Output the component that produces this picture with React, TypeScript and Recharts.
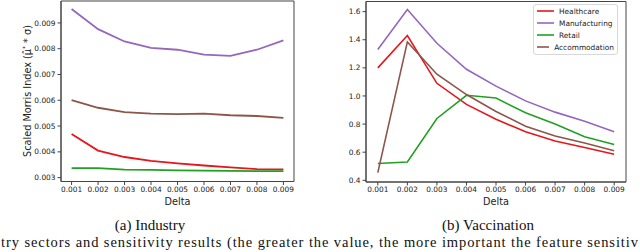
import { LineChart, Line, XAxis, YAxis, ReferenceArea } from 'recharts'

const deltas = [0.001, 0.002, 0.003, 0.004, 0.005, 0.006, 0.007, 0.008, 0.009]
const seriesNames = ['Healthcare', 'Manufacturing', 'Retail', 'Accommodation']
const seriesColors = ['#e8161b', '#9467bd', '#22a022', '#8c564b']

// (a) Industry – scaled Morris index
const industryHealthcare = [0.00469, 0.00405, 0.0038, 0.00365, 0.00355, 0.00347, 0.0034, 0.00333, 0.00332]
const industryManufacturing = [0.00954, 0.00876, 0.00828, 0.00803, 0.00796, 0.00777, 0.00772, 0.00796, 0.00832]
const industryRetail = [0.00337, 0.00337, 0.00331, 0.0033, 0.00328, 0.00327, 0.00326, 0.00325, 0.00325]
const industryAccommodation = [0.00601, 0.00571, 0.00554, 0.00548, 0.00546, 0.00548, 0.00542, 0.00539, 0.00532]

// (b) Vaccination
const vaccHealthcare = [1.2, 1.43, 1.09, 0.94, 0.835, 0.745, 0.68, 0.633, 0.585]
const vaccManufacturing = [1.33, 1.615, 1.375, 1.19, 1.07, 0.965, 0.885, 0.82, 0.745]
const vaccRetail = [0.52, 0.53, 0.84, 1.005, 0.985, 0.88, 0.8, 0.71, 0.655]
const vaccAccommodation = [0.455, 1.385, 1.155, 1.01, 0.89, 0.785, 0.715, 0.665, 0.61]

const industryTicks = [0.003, 0.004, 0.005, 0.006, 0.007, 0.008, 0.009]
const vaccTicks = [0.4, 0.6, 0.8, 1.0, 1.2, 1.4, 1.6]

const caption =
  'try sectors and sensitivity results (the greater the value, the more important the feature sensitiv'

function build(series: number[][]) {
  return deltas.map((d, i) => {
    const row: Record<string, number> = { delta: d }
    seriesNames.forEach((n, k) => {
      row[n] = series[k][i]
    })
    return row
  })
}

const industryData = build([industryHealthcare, industryManufacturing, industryRetail, industryAccommodation])
const vaccData = build([vaccHealthcare, vaccManufacturing, vaccRetail, vaccAccommodation])

const xDomain: [number, number] = [0.0006, 0.0094]
const sans = 'DejaVu Sans, sans-serif'
const serif = 'Liberation Serif, Times New Roman, serif'
const tickStyle = { fontSize: 7.4, fill: '#222', fontFamily: sans }
const spine = '#444'

function LegendBox() {
  return (
    <div
      style={{
        position: 'absolute',
        left: 533,
        top: 4,
        width: 85,
        boxSizing: 'border-box',
        border: '1px solid #d8d8d8',
        borderRadius: 3,
        background: '#fff',
        padding: '0px 3px 1px 3px',
        fontFamily: sans,
        fontSize: 7.4,
        color: '#222',
      }}
    >
      {seriesNames.map((n, i) => (
        <div key={n} style={{ display: 'flex', alignItems: 'center', height: 12 }}>
          <svg width={17} height={4} style={{ marginRight: 5 }}>
            <line x1={0} y1={2} x2={17} y2={2} stroke={seriesColors[i]} strokeWidth={1.6} />
          </svg>
          <span>{n}</span>
        </div>
      ))}
    </div>
  )
}

function Panel(props: {
  data: Record<string, number>[]
  domain: [number, number]
  ticks: number[]
  digits: number
  width: number
  right: number
  top: number
  yWidth: number
  strokeWidth: number
}) {
  const { data, domain, ticks, digits, width, right, top, yWidth, strokeWidth } = props
  return (
    <LineChart width={width} height={215} data={data} margin={{ top, right, left: 0, bottom: 0 }}>
      <XAxis
        dataKey="delta"
        type="number"
        domain={xDomain}
        ticks={deltas}
        interval={0}
        tickFormatter={(v: number) => v.toFixed(3)}
        tick={tickStyle}
        tickSize={3.5}
        tickMargin={1.5}
        height={215 - top - 180.5}
        stroke={spine}
        allowDataOverflow
        label={{ value: 'Delta', position: 'insideBottom', offset: 10, fontSize: 9.7, fill: '#222', fontFamily: sans }}
      />
      <YAxis
        type="number"
        domain={domain}
        ticks={ticks}
        interval={0}
        tickFormatter={(v: number) => v.toFixed(digits)}
        tick={tickStyle}
        tickSize={3.5}
        tickMargin={2}
        width={yWidth}
        stroke={spine}
        allowDataOverflow
      />
      <ReferenceArea
        x1={xDomain[0]}
        x2={xDomain[1]}
        y1={domain[0]}
        y2={domain[1]}
        fill="none"
        fillOpacity={0}
        stroke={spine}
        strokeWidth={1}
        ifOverflow="visible"
      />
      {seriesNames.map((n, i) => (
        <Line
          key={n}
          dataKey={n}
          stroke={seriesColors[i]}
          strokeWidth={strokeWidth}
          dot={false}
          isAnimationActive={false}
        />
      ))}
    </LineChart>
  )
}

export default function App() {
  return (
    <div style={{ position: 'fixed', left: 0, top: 0, width: 640, height: 252, background: '#fff', overflow: 'hidden' }}>
      <div style={{ position: 'absolute', left: 0, top: 0 }}>
        <Panel
          data={industryData}
          domain={[0.00285, 0.00985]}
          ticks={industryTicks}
          digits={3}
          width={300}
          right={6}
          top={1}
          yWidth={61}
          strokeWidth={1.8}
        />
      </div>
      <div
        style={{
          position: 'absolute',
          left: 28 - 70,
          top: 91 - 7,
          width: 140,
          height: 14,
          transform: 'rotate(-90deg)',
          textAlign: 'center',
          fontFamily: sans,
          fontSize: 9.7,
          color: '#222',
          lineHeight: '14px',
          whiteSpace: 'nowrap',
        }}
      >
        Scaled Morris Index (μ̂<sup style={{ fontSize: 6, lineHeight: 0 }}>*</sup> * σ)
      </div>
      <div style={{ position: 'absolute', left: 320, top: 0 }}>
        <Panel
          data={vaccData}
          domain={[0.388, 1.672]}
          ticks={vaccTicks}
          digits={1}
          width={310}
          right={4}
          top={1.5}
          yWidth={46}
          strokeWidth={1.6}
        />
      </div>
      <LegendBox />
      <svg width={640} height={252} style={{ position: 'absolute', left: 0, top: 0, pointerEvents: 'none' }}>
        <text x={150} y={230} textAnchor="middle" fontFamily={serif} fontSize={15} fill="#111">
          (a) Industry
        </text>
        <text x={488} y={230} textAnchor="middle" fontFamily={serif} fontSize={15} fill="#111">
          (b) Vaccination
        </text>
        <text x={1} y={247} fontFamily={serif} fontSize={14.5} fill="#111" textLength={637} lengthAdjust="spacing">
          {caption}
        </text>
      </svg>
    </div>
  )
}
